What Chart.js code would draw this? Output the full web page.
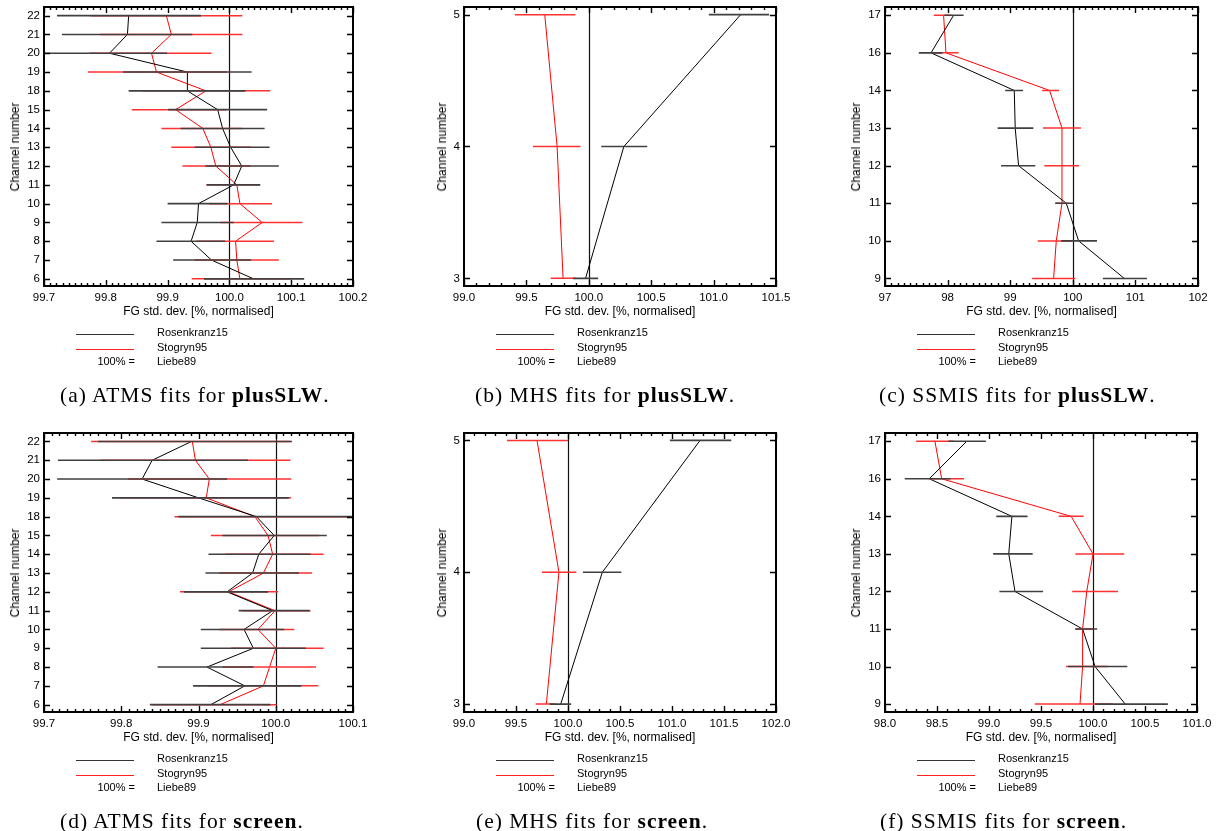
<!DOCTYPE html>
<html><head><meta charset="utf-8">
<script src="https://cdn.jsdelivr.net/npm/chart.js@4.4.0/dist/chart.umd.min.js"></script>
<style>
body{margin:0;width:1219px;height:831px;background:#fff;position:relative;overflow:hidden;font-family:"Liberation Sans",Arial,sans-serif;color:#000;}
canvas{position:absolute;}
.t{position:absolute;white-space:nowrap;line-height:14px;height:14px;}
.xt{font-size:12px;transform:translateX(-50%);}
.yt{font-size:12px;transform:translate(-50%,-50%) rotate(-90deg);}
.lg{font-size:11px;}
.ln{position:absolute;height:0;border-top:1px solid #222;}
.cap{position:absolute;white-space:nowrap;font-family:"Liberation Serif","Times New Roman",serif;font-size:21.5px;letter-spacing:1px;line-height:22px;}
</style></head><body>
<script>
// ---------- data ----------
const atmsChannels = ['6','7','8','9','10','11','12','13','14','15','18','19','20','21','22'];
const mhsChannels = ['3','4','5'];
const ssmisChannels = ['9','10','11','12','13','14','16','17'];

// (a) ATMS plusSLW
const atmsPlusRos   = [100.039,99.971,99.938,99.948,99.950,100.007,100.020,100.002,99.989,99.981,99.932,99.932,99.806,99.835,99.837];
const atmsPlusRosLo = [99.959,99.909,99.882,99.890,99.900,99.963,99.961,99.944,99.921,99.901,99.837,99.828,99.695,99.729,99.721];
const atmsPlusRosHi = [100.121,100.035,99.993,100.007,99.997,100.050,100.080,100.065,100.057,100.061,100.026,100.036,99.899,99.940,99.954];
const atmsPlusSto   = [100.017,100.012,100.010,100.053,100.017,100.012,99.978,99.970,99.957,99.913,99.962,99.882,99.874,99.906,99.898];
const atmsPlusStoLo = [99.939,99.944,99.947,99.986,99.967,99.963,99.924,99.906,99.890,99.842,99.860,99.771,99.774,99.791,99.775];
const atmsPlusStoHi = [100.100,100.080,100.072,100.118,100.069,100.049,100.034,100.035,100.021,99.995,100.066,99.996,99.971,100.021,100.021];

// (b) MHS plusSLW
const mhsPlusRos   = [99.974,100.281,101.217];
const mhsPlusRosLo = [99.874,100.100,100.962];
const mhsPlusRosHi = [100.075,100.468,101.446];
const mhsPlusSto   = [99.794,99.746,99.647];
const mhsPlusStoLo = [99.695,99.553,99.407];
const mhsPlusStoHi = [99.893,99.933,99.893];

// (c) SSMIS plusSLW
const ssmisPlusRos   = [100.823,100.093,99.896,99.134,99.080,99.065,97.735,98.096];
const ssmisPlusRosLo = [100.480,99.816,99.720,98.853,98.800,98.920,97.540,97.950];
const ssmisPlusRosHi = [101.185,100.386,100.003,99.400,99.370,99.205,97.920,98.256];
const ssmisPlusSto   = [99.693,99.736,99.827,99.827,99.827,99.629,97.974,97.936];
const ssmisPlusStoLo = [99.350,99.440,99.720,99.545,99.524,99.510,97.776,97.780];
const ssmisPlusStoHi = [100.040,99.990,99.930,100.100,100.130,99.780,98.176,98.060];

// (d) ATMS screen
const atmsScrRos   = [99.916,99.960,99.911,99.971,99.959,99.996,99.937,99.970,99.978,99.998,99.975,99.900,99.827,99.840,99.891];
const atmsScrRosLo = [99.837,99.893,99.847,99.903,99.903,99.952,99.881,99.909,99.913,99.931,99.874,99.788,99.717,99.718,99.770];
const atmsScrRosHi = [99.993,100.033,99.971,100.039,100.011,100.044,99.990,100.030,100.045,100.066,100.105,100.017,99.937,99.964,100.021];
const atmsScrSto   = [99.928,99.984,99.992,100.000,99.977,99.999,99.939,99.984,99.996,99.990,99.973,99.910,99.914,99.896,99.892];
const atmsScrStoLo = [99.840,99.913,99.931,99.942,99.927,99.957,99.876,99.927,99.935,99.916,99.869,99.799,99.809,99.773,99.761];
const atmsScrStoHi = [100.001,100.055,100.052,100.062,100.024,100.045,100.003,100.047,100.062,100.056,100.105,100.020,100.020,100.019,100.019];

// (e) MHS screen
const mhsScrRos   = [99.930,100.330,101.270];
const mhsScrRosLo = [99.824,100.144,100.980];
const mhsScrRosHi = [100.030,100.513,101.570];
const mhsScrSto   = [99.792,99.913,99.702];
const mhsScrStoLo = [99.690,99.750,99.413];
const mhsScrStoHi = [99.880,100.080,100.000];

// (f) SSMIS screen
const ssmisScrRos   = [100.310,100.020,99.900,99.250,99.190,99.220,98.426,98.786];
const ssmisScrRosLo = [100.020,99.760,99.830,99.100,99.040,99.070,98.190,98.610];
const ssmisScrRosHi = [100.720,100.330,100.040,99.520,99.420,99.370,98.630,98.970];
const ssmisScrSto   = [99.875,99.900,99.900,99.940,100.000,99.790,98.545,98.480];
const ssmisScrStoLo = [99.440,99.740,99.830,99.800,99.830,99.670,98.430,98.300];
const ssmisScrStoHi = [100.190,100.140,100.000,100.240,100.300,99.910,98.760,98.660];

const xTitle = 'FG std. dev. [%, normalised]';
const yTitle = 'Channel number';
const legendNames = ['Rosenkranz15','Stogryn95','Liebe89'];
const legendRef = '100% =';
const captions = [
  ['(a) ATMS fits for ','plusSLW','.'],
  ['(b) MHS fits for ','plusSLW','.'],
  ['(c) SSMIS fits for ','plusSLW','.'],
  ['(d) ATMS fits for ','screen','.'],
  ['(e) MHS fits for ','screen','.'],
  ['(f) SSMIS fits for ','screen','.']
];

// ---------- panels (layout) ----------
const panels = [
  {L:44, T:7, R:353, B:286, xMin:99.7, xMax:100.2, xStep:0.1, minor:10, dec:1, yMin:-0.38, yMax:14.46, yOff:29.5, capX:60,
   labels:atmsChannels, r:atmsPlusRos, rLo:atmsPlusRosLo, rHi:atmsPlusRosHi, s:atmsPlusSto, sLo:atmsPlusStoLo, sHi:atmsPlusStoHi},
  {L:464, T:7, R:776, B:286, xMin:99.0, xMax:101.5, xStep:0.5, minor:5, dec:1, yMin:-0.058, yMax:2.058, yOff:22.5, capX:475,
   labels:mhsChannels, r:mhsPlusRos, rLo:mhsPlusRosLo, rHi:mhsPlusRosHi, s:mhsPlusSto, sLo:mhsPlusStoLo, sHi:mhsPlusStoHi},
  {L:885, T:7, R:1198, B:286, xMin:97, xMax:102, xStep:1, minor:10, dec:0, yMin:-0.2, yMax:7.22, yOff:29, capX:879,
   labels:ssmisChannels, r:ssmisPlusRos, rLo:ssmisPlusRosLo, rHi:ssmisPlusRosHi, s:ssmisPlusSto, sLo:ssmisPlusStoLo, sHi:ssmisPlusStoHi},
  {L:44, T:433, R:353, B:712, xMin:99.7, xMax:100.1, xStep:0.1, minor:10, dec:1, yMin:-0.39, yMax:14.45, yOff:29.5, capX:60,
   labels:atmsChannels, r:atmsScrRos, rLo:atmsScrRosLo, rHi:atmsScrRosHi, s:atmsScrSto, sLo:atmsScrStoLo, sHi:atmsScrStoHi},
  {L:464, T:433, R:776, B:712, xMin:99.0, xMax:102.0, xStep:0.5, minor:5, dec:1, yMin:-0.06, yMax:2.056, yOff:22.5, capX:476,
   labels:mhsChannels, r:mhsScrRos, rLo:mhsScrRosLo, rHi:mhsScrRosHi, s:mhsScrSto, sLo:mhsScrStoLo, sHi:mhsScrStoHi},
  {L:885, T:433, R:1197, B:712, xMin:98.0, xMax:101.0, xStep:0.5, minor:5, dec:1, yMin:-0.21, yMax:7.22, yOff:29, capX:880,
   labels:ssmisChannels, r:ssmisScrRos, rLo:ssmisScrRosLo, rHi:ssmisScrRosHi, s:ssmisScrSto, sLo:ssmisScrStoLo, sHi:ssmisScrStoHi}
];

function bars(lo, hi){ const d=[]; for(let i=0;i<lo.length;i++){ d.push({x:lo[i],y:i},{x:hi[i],y:i},{x:null,y:null}); } return d; }
function pts(v){ return v.map((x,i)=>({x:x,y:i})); }

const framePlugin = {
  id:'frame',
  beforeDatasetsDraw(chart){
    const {ctx, chartArea:a, scales:{x}} = chart;
    const px = Math.round(x.getPixelForValue(100))+0.5;
    ctx.save(); ctx.strokeStyle='#111'; ctx.lineWidth=1.2;
    ctx.beginPath(); ctx.moveTo(px,a.top); ctx.lineTo(px,a.bottom); ctx.stroke(); ctx.restore();
  },
  afterDraw(chart){
    const {ctx, chartArea:a, scales:{x,y}} = chart;
    const p = chart.options.plugins.frame;
    ctx.save(); ctx.strokeStyle='#000'; ctx.lineWidth=1.4;
    const n = Math.round((p.xMax-p.xMin)/p.xStep*p.minor);
    ctx.beginPath();
    for(let k=0;k<=n;k++){
      const v = p.xMin + k*p.xStep/p.minor;
      const px = Math.round(x.getPixelForValue(v))+0.5;
      const len = (k%p.minor===0)?6:3;
      ctx.moveTo(px,a.bottom); ctx.lineTo(px,a.bottom-len);
      ctx.moveTo(px,a.top); ctx.lineTo(px,a.top+len);
    }
    for(let i=Math.ceil(p.yMin);i<=Math.floor(p.yMax);i++){
      const py = Math.round(y.getPixelForValue(i))+0.5;
      ctx.moveTo(a.left,py); ctx.lineTo(a.left+6,py);
      ctx.moveTo(a.right,py); ctx.lineTo(a.right-6,py);
    }
    ctx.stroke();
    ctx.lineWidth=2;
    ctx.strokeRect(a.left, a.top, a.right-a.left, a.bottom-a.top);
    ctx.restore();
  }
};

function addText(cls, txt, x, y, extra){
  const d=document.createElement('div'); d.className='t '+cls; d.textContent=txt;
  d.style.left=x+'px'; d.style.top=y+'px';
  if(extra) Object.assign(d.style, extra);
  document.body.appendChild(d); return d;
}

const PADR = 24;
panels.forEach((p,idx)=>{
  const cv=document.createElement('canvas');
  const W=(p.R-p.L)+44+PADR, H=(p.B-p.T)+7+24;
  cv.width=W; cv.height=H; cv.style.width=W+'px'; cv.style.height=H+'px';
  cv.style.left=(p.L-44)+'px'; cv.style.top=(p.T-7)+'px';
  document.body.appendChild(cv);
  const tickFont={family:'"Liberation Sans", Arial, sans-serif', size:11.5};
  new Chart(cv,{
    type:'line',
    data:{datasets:[
      {data:bars(p.rLo,p.rHi), borderColor:'#404040', borderWidth:1.6, pointRadius:0, spanGaps:false, tension:0},
      {data:bars(p.sLo,p.sHi), borderColor:'#ff3030', borderWidth:1.5, pointRadius:0, spanGaps:false, tension:0},
      {data:pts(p.r), borderColor:'#000', borderWidth:1, pointRadius:0, tension:0},
      {data:pts(p.s), borderColor:'#ff0000', borderWidth:1, pointRadius:0, tension:0}
    ]},
    options:{
      responsive:false, animation:false, devicePixelRatio:1,
      layout:{padding:{left:0,top:7,right:PADR,bottom:0}},
      plugins:{legend:{display:false}, tooltip:{enabled:false},
        frame:{xMin:p.xMin,xMax:p.xMax,xStep:p.xStep,minor:p.minor,yMin:p.yMin,yMax:p.yMax}},
      scales:{
        x:{type:'linear', min:p.xMin, max:p.xMax, grid:{display:false, drawTicks:false}, border:{display:false},
           ticks:{stepSize:p.xStep, autoSkip:false, maxRotation:0, includeBounds:false, padding:5, color:'#000', font:tickFont,
                  callback:(v)=>Number(v).toFixed(p.dec)},
           afterFit:(s)=>{s.height=24; s.paddingLeft=0; s.paddingRight=0;}},
        y:{type:'linear', min:p.yMin, max:p.yMax, grid:{display:false, drawTicks:false}, border:{display:false},
           ticks:{stepSize:1, autoSkip:false, includeBounds:false, padding:4, color:'#000', font:tickFont,
                  callback:(v)=>Number.isInteger(v)?p.labels[v]:''},
           afterFit:(s)=>{s.width=44; s.paddingTop=0; s.paddingBottom=0;}}
      }
    },
    plugins:[framePlugin]
  });
  // axis titles
  addText('xt', xTitle, (p.L+p.R)/2, p.B+18);
  addText('yt', yTitle, p.L-p.yOff, (p.T+p.B)/2);
  // legend
  const l1=document.createElement('div'); l1.className='ln'; l1.style.left=(p.L+32)+'px'; l1.style.width='58px'; l1.style.top=(p.B+48)+'px'; l1.style.borderTopColor='#333'; document.body.appendChild(l1);
  const l2=document.createElement('div'); l2.className='ln'; l2.style.left=(p.L+32)+'px'; l2.style.width='58px'; l2.style.top=(p.B+63)+'px'; l2.style.borderTopColor='#ff2020'; document.body.appendChild(l2);
  addText('lg', legendNames[0], p.L+113, p.B+39);
  addText('lg', legendNames[1], p.L+113, p.B+54);
  addText('lg', legendRef, p.L+91, p.B+68, {transform:'translateX(-100%)'});
  addText('lg', legendNames[2], p.L+113, p.B+68);
  // caption
  const c=document.createElement('div'); c.className='cap';
  c.style.left=p.capX+'px'; c.style.top=(p.B+98)+'px';
  const c1=document.createElement('span'); c1.textContent=captions[idx][0];
  const c2=document.createElement('b'); c2.textContent=captions[idx][1];
  const c3=document.createElement('span'); c3.textContent=captions[idx][2];
  c.appendChild(c1); c.appendChild(c2); c.appendChild(c3);
  document.body.appendChild(c);
});
</script>
</body></html>
